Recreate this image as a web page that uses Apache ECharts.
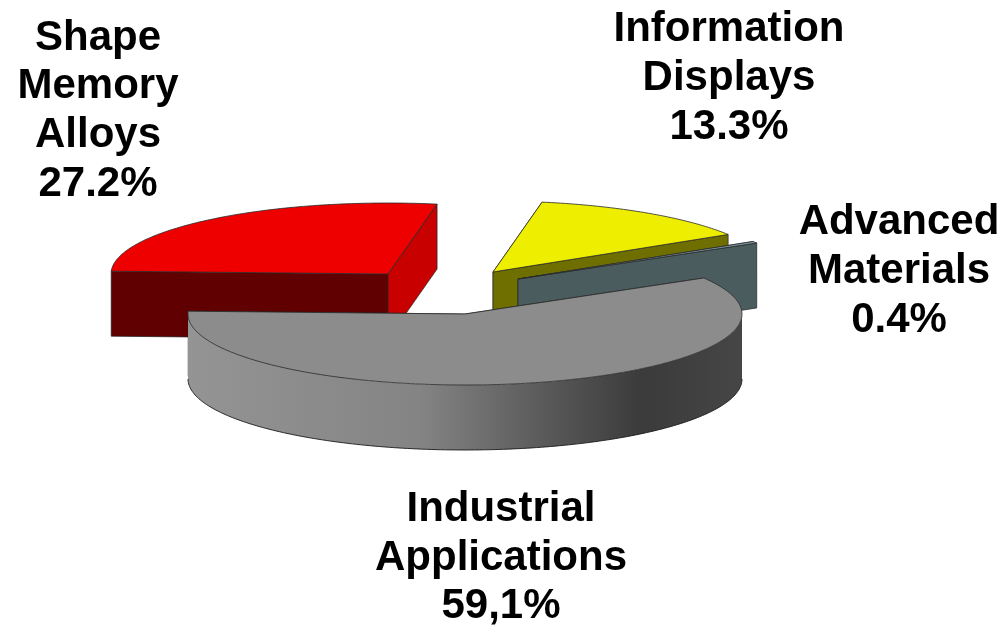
<!DOCTYPE html>
<html>
<head>
<meta charset="utf-8">
<style>html,body{margin:0;padding:0;background:#fff}#c{width:1003px;height:626px}</style>
<script src="https://cdn.jsdelivr.net/npm/echarts@6/dist/echarts.min.js"></script>
</head>
<body>
<div id="c"></div>
<script>
// Data, in pie order (clockwise)
const categories = ['Information\nDisplays', 'Advanced\nMaterials', 'Industrial\nApplications', 'Shape\nMemory\nAlloys'];
const values = [13.3, 0.4, 59.1, 27.2];
const valueLabels = ['13.3%', '0.4%', '59,1%', '27.2%'];

// Pie projection
const START_ANGLE = 79.8;          // degrees, where the first slice begins
const RX = 277, RY = 71, DEPTH = 65;
const sliceCentres = [[493, 272], [518, 279], [465, 314], [388, 274]];

// Styles
const topColors = ['#eeee00', '#7f9ea3', '#8c8c8c', '#ee0000'];
const startFaceColors = ['#6f6f00', '#4a5c5e', '#8c8c8c', '#600000'];
const endFaceColors = ['#6f6f00', '#4a5c5e', '#8c8c8c', '#c80000'];
const labelCentres = [[729, 78.5], [899, 271.5], [501, 558], [98, 111]];
const FONT_SIZE = 42, LINE_HEIGHT = 48.7;

const total = values.reduce((a, b) => a + b, 0);
const startAngles = [];
values.reduce((acc, v, i) => { startAngles[i] = acc; return acc - v / total * 360; }, START_ANGLE);

function pt(c, deg, drop) {
  const r = deg * Math.PI / 180;
  return [c[0] + RX * Math.cos(r), c[1] - RY * Math.sin(r) + (drop || 0)];
}
function arc(c, a0, a1, drop) {
  const n = Math.max(2, Math.ceil(Math.abs(a1 - a0)));
  const out = [];
  for (let k = 0; k <= n; k++) out.push(pt(c, a0 + (a1 - a0) * k / n, drop));
  return out;
}
function poly(points, fill, stroke, lw) {
  return { type: 'polygon', shape: { points }, style: { fill, stroke: stroke || fill, lineWidth: lw == null ? 0.6 : lw }, silent: true };
}
function face(c, a, fill) {
  const e = pt(c, a), e2 = pt(c, a, DEPTH);
  return poly([c, e, e2, [c[0], c[1] + DEPTH]], fill, '#222', 0.7);
}
const wallGradient = new echarts.graphic.LinearGradient(0, 0, 1, 0, [
  { offset: 0, color: '#949494' },
  { offset: 0.42, color: '#848484' },
  { offset: 0.64, color: '#5a5a5a' },
  { offset: 0.82, color: '#3b3b3b' },
  { offset: 1, color: '#464646' }
]);

function renderItem(params, api) {
  const i = params.dataIndex;
  const sweep = api.value(1) / total * 360;
  const a0 = startAngles[i], a1 = a0 - sweep;
  const c = sliceCentres[i];
  const kids = [];
  kids.push(face(c, a0, startFaceColors[i]));
  kids.push(face(c, a1, endFaceColors[i]));
  // outer wall: only the part facing the viewer (-180..0 deg)
  const w0 = Math.min(a0, 0), w1 = Math.max(a1, -180);
  if (w0 > w1) {
    kids.push(poly(arc(c, w0, w1, 0).concat(arc(c, w1, w0, DEPTH)), wallGradient, 'transparent', 0));
    kids.push({ type: 'polyline', silent: true, shape: { points: arc(c, w0, w1, DEPTH) }, style: { fill: 'none', stroke: '#1a1a1a', lineWidth: 0.9 } });
  }
  kids.push(poly([c].concat(arc(c, a0, a1, 0)), topColors[i], '#2a2a2a', 0.8));
  return { type: 'group', children: kids };
}
function labelItem(params, api) {
  const i = params.dataIndex;
  return {
    type: 'text', silent: true,
    style: {
      x: labelCentres[i][0], y: labelCentres[i][1],
      text: categories[i] + '\n' + valueLabels[i],
      fill: '#000', align: 'center', verticalAlign: 'middle',
      font: 'bold ' + FONT_SIZE + 'px "Liberation Sans", Arial, sans-serif',
      lineHeight: LINE_HEIGHT
    }
  };
}
// painter's order: far slices first, the large front slice last
const drawOrder = [3, 0, 1, 2];
const chart = echarts.init(document.getElementById('c'), null, { renderer: 'canvas' });
chart.setOption({
  animation: false,
  backgroundColor: '#fff',
  series: drawOrder.map((idx, z) => ({
    type: 'custom', coordinateSystem: 'none', z: 2 + z,
    renderItem: (p, api) => renderItem({ dataIndex: idx }, api),
    data: [[idx, values[idx]]]
  })).concat([{
    type: 'custom', coordinateSystem: 'none', z: 10, renderItem: labelItem,
    data: values.map((v, i) => [i, v])
  }])
});
</script>
</body>
</html>
